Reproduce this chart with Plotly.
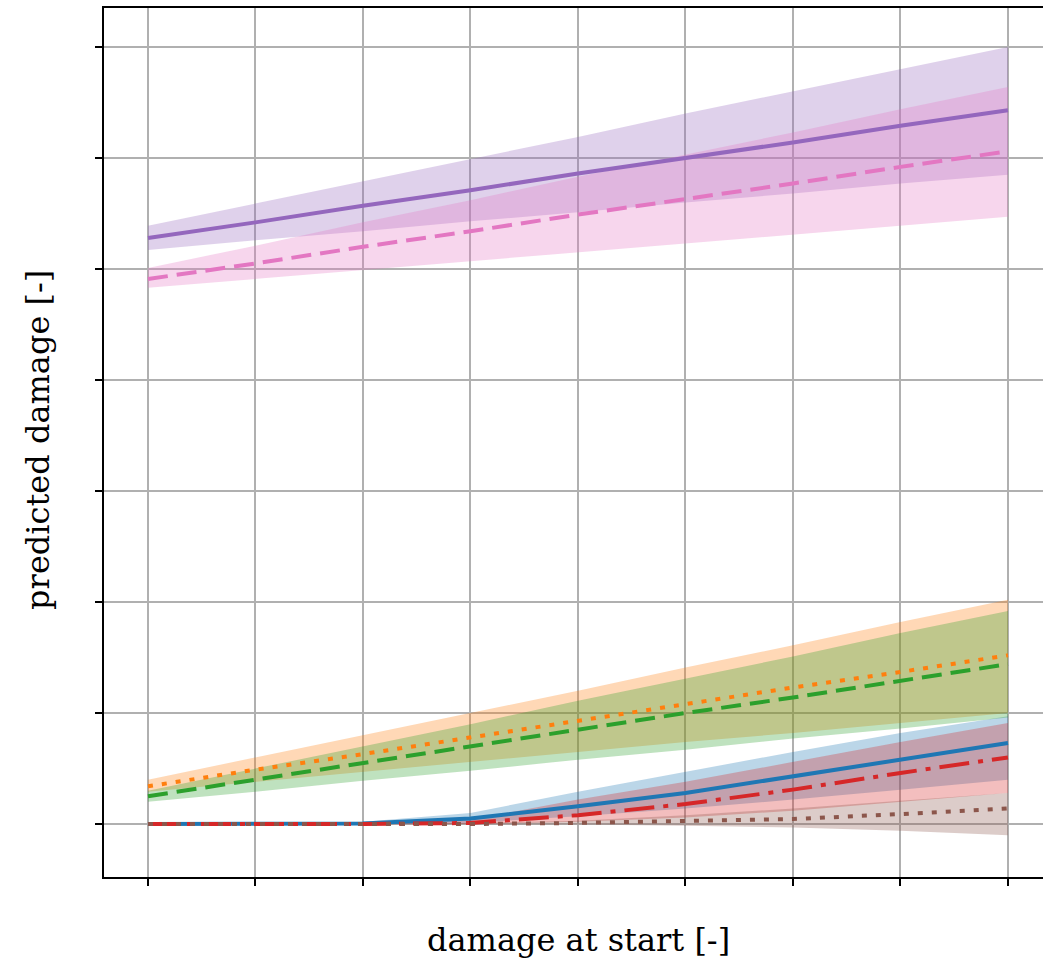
import plotly.graph_objects as go

# x positions (damage at start), in tick units
x_vals = [0, 1, 2, 3, 4, 5, 6, 7, 8]
x_ticks = [0, 1, 2, 3, 4, 5, 6, 7, 8]
y_ticks = [0, 1, 2, 3, 4, 5, 6, 7]

# series: mean, upper, lower
blue_mean = [0.0, 0.0, 0.005, 0.05, 0.16, 0.28, 0.43, 0.58, 0.73]
blue_up = [0.01, 0.01, 0.02, 0.10, 0.29, 0.47, 0.65, 0.82, 0.97]
blue_lo = [0.0, 0.0, 0.0, 0.01, 0.07, 0.14, 0.22, 0.31, 0.40]

orange_mean = [0.34, 0.49, 0.63, 0.78, 0.93, 1.08, 1.23, 1.37, 1.52]
orange_up = [0.40, 0.60, 0.80, 1.00, 1.20, 1.41, 1.61, 1.82, 2.02]
orange_lo = [0.29, 0.38, 0.47, 0.56, 0.65, 0.74, 0.82, 0.91, 1.00]

green_mean = [0.25, 0.40, 0.55, 0.70, 0.85, 1.00, 1.14, 1.29, 1.44]
green_up = [0.30, 0.50, 0.70, 0.90, 1.11, 1.31, 1.51, 1.72, 1.92]
green_lo = [0.20, 0.29, 0.39, 0.48, 0.58, 0.67, 0.77, 0.86, 0.96]

red_mean = [0.0, 0.0, 0.0, 0.01, 0.08, 0.18, 0.31, 0.46, 0.60]
red_up = [0.005, 0.005, 0.01, 0.04, 0.22, 0.38, 0.56, 0.74, 0.91]
red_lo = [-0.005, -0.005, -0.005, 0.0, 0.02, 0.06, 0.12, 0.20, 0.28]

purple_mean = [5.28, 5.42, 5.57, 5.71, 5.86, 6.00, 6.14, 6.29, 6.43]
purple_up = [5.39, 5.59, 5.79, 5.99, 6.19, 6.40, 6.60, 6.80, 7.00]
purple_lo = [5.17, 5.26, 5.34, 5.43, 5.51, 5.60, 5.68, 5.77, 5.85]

brown_mean = [0.0, 0.0, 0.0, 0.0, 0.01, 0.025, 0.045, 0.09, 0.14]
brown_up = [0.002, 0.002, 0.004, 0.01, 0.03, 0.08, 0.14, 0.21, 0.28]
brown_lo = [-0.002, -0.002, -0.002, -0.003, -0.005, -0.015, -0.03, -0.06, -0.10]

pink_mean = [4.91, 5.05, 5.20, 5.34, 5.49, 5.63, 5.77, 5.92, 6.06]
pink_up = [5.01, 5.21, 5.42, 5.62, 5.83, 6.03, 6.23, 6.44, 6.64]
pink_lo = [4.83, 4.91, 4.99, 5.07, 5.15, 5.23, 5.31, 5.39, 5.47]

series = [
    (blue_mean, blue_up, blue_lo, (31, 119, 180), "solid"),
    (orange_mean, orange_up, orange_lo, (255, 127, 14), "5px,9px"),
    (green_mean, green_up, green_lo, (44, 160, 44), "20px,9px"),
    (red_mean, red_up, red_lo, (214, 39, 40), "30px,9px,5px,9px"),
    (purple_mean, purple_up, purple_lo, (148, 103, 189), "solid"),
    (brown_mean, brown_up, brown_lo, (140, 86, 75), "5px,9px"),
    (pink_mean, pink_up, pink_lo, (227, 119, 194), "20px,9px"),
]

fig = go.Figure()
for mean, up, lo, c, dash in series:
    fig.add_trace(go.Scatter(x=x_vals, y=lo, mode="lines", line=dict(width=0),
                             showlegend=False, hoverinfo="skip"))
    fig.add_trace(go.Scatter(x=x_vals, y=up, mode="lines", line=dict(width=0),
                             fill="tonexty",
                             fillcolor="rgba(%d,%d,%d,0.3)" % c,
                             showlegend=False, hoverinfo="skip"))
for mean, up, lo, c, dash in series:
    fig.add_trace(go.Scatter(x=x_vals, y=mean, mode="lines",
                             line=dict(color="rgb(%d,%d,%d)" % c, width=4, dash=dash),
                             showlegend=False))

font = "DejaVu Serif"
fig.update_layout(
    width=1043, height=960,
    margin=dict(l=104, r=0, t=8, b=83),
    paper_bgcolor="white", plot_bgcolor="white",
    showlegend=False,
    font=dict(family=font, color="black"),
    xaxis=dict(range=[-0.409, 8.326], tickvals=x_ticks, showticklabels=False,
               ticks="outside", ticklen=7, tickwidth=1.5, tickcolor="black",
               showgrid=True, gridcolor="#b0b0b0", gridwidth=2,
               showline=True, linecolor="black", linewidth=2, mirror=True,
               zeroline=False),
    yaxis=dict(range=[-0.477, 7.351], tickvals=y_ticks, showticklabels=False,
               ticks="outside", ticklen=7, tickwidth=1.5, tickcolor="black",
               showgrid=True, gridcolor="#b0b0b0", gridwidth=2,
               showline=True, linecolor="black", linewidth=2, mirror=False,
               zeroline=False),
    annotations=[
        dict(text="damage at start [-]", xref="paper", yref="paper",
             x=0.505, y=-0.0725, xanchor="center", yanchor="middle",
             showarrow=False, font=dict(family=font, size=32, color="black")),
        dict(text="predicted damage [-]", xref="paper", yref="paper",
             x=-0.0703, y=0.503, xanchor="center", yanchor="middle", textangle=-90,
             showarrow=False, font=dict(family=font, size=32, color="black")),
    ],
)

fig.write_html(
    "out.html",
    config={"displayModeBar": False},
    post_script="document.body.style.margin='0';document.body.style.overflow='hidden';",
)
